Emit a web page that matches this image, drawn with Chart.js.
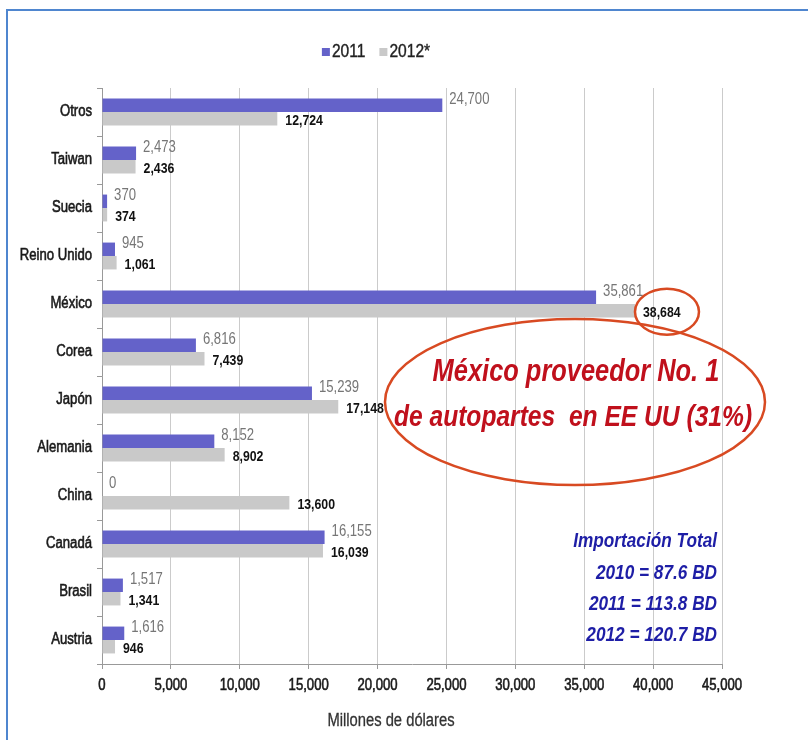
<!DOCTYPE html>
<html>
<head>
<meta charset="utf-8">
<script src="https://cdn.jsdelivr.net/npm/chart.js@4.4.1/dist/chart.umd.min.js"></script>
<style>
  html, body { margin: 0; padding: 0; background: #ffffff; }
  #wrap { position: relative; width: 808px; height: 740px; }
</style>
</head>
<body>
<div id="wrap"><canvas id="chart" width="808" height="740"></canvas></div>
<script>
// Importaciones de autopartes de EE UU por país de origen (millones de dólares)
const categories = ['Otros', 'Taiwan', 'Suecia', 'Reino Unido', 'México', 'Corea', 'Japón', 'Alemania', 'China', 'Canadá', 'Brasil', 'Austria'];
const seriesNames = ['2011', '2012*'];
const values2011 = [24700, 2473, 370, 945, 35861, 6816, 15239, 8152, 0, 16155, 1517, 1616];
const values2012 = [12724, 2436, 374, 1061, 38684, 7439, 17148, 8902, 13600, 16039, 1341, 946];
const xTicks = [0, 5000, 10000, 15000, 20000, 25000, 30000, 35000, 40000, 45000];
const axisTitle = 'Millones de dólares';
const calloutLines = ['México proveedor No. 1', 'de autopartes  en EE UU (31%)'];
const totalLines = ['Importación Total', '2010 = 87.6 BD', '2011 = 113.8 BD', '2012 = 120.7 BD'];

// Liberation Sans squeezed horizontally gives a narrow sans look
const FONT = '"Liberation Sans", Arial, sans-serif';
const NARROW = 0.82;
const COLOR_2011 = '#6462c9';
const COLOR_2012 = '#c9c9c9';
const CLEAR = 'rgba(0,0,0,0)';

function fmt(v) {
  return String(v).replace(/\B(?=(\d{3})+(?!\d))/g, ',');
}

function narrowText(ctx, text, x, y, font, color, align, weight) {
  ctx.save();
  ctx.font = font;
  ctx.fillStyle = color;
  ctx.textAlign = align || 'left';
  ctx.textBaseline = 'middle';
  ctx.translate(x, y);
  ctx.scale(NARROW, 1);
  ctx.fillText(text, 0, 0);
  if (weight) {
    ctx.strokeStyle = color;
    ctx.lineWidth = weight;
    ctx.strokeText(text, 0, 0);
  }
  ctx.restore();
}

function narrowWidth(ctx, text, font) {
  ctx.save();
  ctx.font = font;
  const w = ctx.measureText(text).width * NARROW;
  ctx.restore();
  return w;
}

// Page frame
const framePlugin = {
  id: 'frame',
  afterDraw(chart) {
    const ctx = chart.ctx;
    ctx.save();
    ctx.strokeStyle = '#4f86cf';
    ctx.lineWidth = 2;
    ctx.beginPath();
    ctx.moveTo(7, 740);
    ctx.lineTo(7, 10);
    ctx.lineTo(808, 10);
    ctx.stroke();
    ctx.restore();
  }
};

// Axis labels and title in the narrow face, placed from the chart scales
const axisText = {
  id: 'axisText',
  afterDraw(chart) {
    const ctx = chart.ctx;
    const xs = chart.scales.x, ys = chart.scales.y;
    const tickFont = '16px ' + FONT;
    xs.ticks.forEach((t, i) => {
      narrowText(ctx, fmt(t.value), xs.getPixelForTick(i), xs.top + 22, tickFont, '#1a1a1a', 'center', 0.6);
    });
    ys.ticks.forEach((t, i) => {
      narrowText(ctx, chart.data.labels[i], ys.right - 10, ys.getPixelForTick(i), tickFont, '#1a1a1a', 'right', 0.6);
    });
    narrowText(ctx, axisTitle, 391, 721, '18px ' + FONT, '#333333', 'center', 0.3);
  }
};

// Legend row above the plot
const legendPlugin = {
  id: 'topLegend',
  afterDraw(chart) {
    const ctx = chart.ctx;
    const font = '19px ' + FONT;
    const box = 8, gap = 2, spacing = 14;
    const items = chart.data.datasets.map(d => ({ text: d.label, color: d.backgroundColor, w: narrowWidth(ctx, d.label, font) }));
    const total = items.reduce((s, it) => s + box + gap + it.w, 0) + spacing * (items.length - 1);
    let x = 376 - total / 2;
    const y = 52;
    items.forEach(it => {
      ctx.fillStyle = it.color;
      ctx.fillRect(x, y - box / 2, box, box);
      x += box + gap;
      narrowText(ctx, it.text, x, y, font, '#222222', 'left', 0.4);
      x += it.w + spacing;
    });
  }
};

// Value labels at the end of each bar
const valueLabels = {
  id: 'valueLabels',
  afterDatasetsDraw(chart) {
    const ctx = chart.ctx;
    chart.data.datasets.forEach((ds, di) => {
      const meta = chart.getDatasetMeta(di);
      meta.data.forEach((bar, i) => {
        const v = ds.data[i];
        if (di === 0) {
          narrowText(ctx, fmt(v), bar.x + 7, bar.y - 6, '16px ' + FONT, '#767676', 'left');
        } else {
          narrowText(ctx, fmt(v), bar.x + 8, bar.y + 2, 'bold 15px ' + FONT, '#111111', 'left');
        }
      });
    });
  }
};

// Callout ellipses and notes
const notesPlugin = {
  id: 'notes',
  afterDraw(chart) {
    const ctx = chart.ctx;
    const meta = chart.getDatasetMeta(1);
    const mx = meta.data[4];
    ctx.save();
    ctx.strokeStyle = '#d84a22';
    ctx.lineWidth = 2.5;
    // small ring round the México 2012 value
    ctx.beginPath();
    ctx.ellipse(mx.x + 32, mx.y + 1, 32, 23, 0, 0, Math.PI * 2);
    ctx.stroke();
    // large ring round the callout
    ctx.beginPath();
    ctx.ellipse(575, 402, 190, 83, 0, 0, Math.PI * 2);
    ctx.stroke();
    ctx.restore();

    narrowText(ctx, calloutLines[0], 576, 372, 'italic bold 31px ' + FONT, '#c0101c', 'center');
    narrowText(ctx, calloutLines[1], 573, 418, 'italic bold 30px ' + FONT, '#c0101c', 'center');

    const blue = 'italic bold 21px ' + FONT;
    const ys = [541, 573, 604, 635];
    totalLines.forEach((t, i) => narrowText(ctx, t, 717, ys[i], blue, '#1e1ea6', 'right'));
  }
};

new Chart(document.getElementById('chart'), {
  type: 'bar',
  data: {
    labels: categories,
    datasets: [
      { label: seriesNames[0], data: values2011, backgroundColor: COLOR_2011, borderWidth: 0 },
      { label: seriesNames[1], data: values2012, backgroundColor: COLOR_2012, borderWidth: 0 }
    ]
  },
  options: {
    indexAxis: 'y',
    responsive: false,
    animation: false,
    events: [],
    layout: { padding: { top: 88, right: 86, bottom: 0, left: 0 } },
    datasets: { bar: { categoryPercentage: 0.56, barPercentage: 1 } },
    plugins: {
      legend: { display: false },
      tooltip: { enabled: false }
    },
    scales: {
      x: {
        min: 0,
        max: 45000,
        afterBuildTicks(scale) { scale.ticks = xTicks.map(v => ({ value: v })); },
        afterFit(scale) { scale.height = 76; },
        grid: { color: '#cbcbcb', lineWidth: 1, tickLength: 5, drawTicks: true, tickColor: '#999999' },
        border: { color: '#999999', width: 1 },
        ticks: { padding: 7, color: CLEAR, font: { family: FONT, size: 13 }, maxRotation: 0, autoSkip: false }
      },
      y: {
        afterFit(scale) { scale.width = 102; },
        grid: { drawOnChartArea: false, drawTicks: true, tickLength: 5, offset: true, tickColor: '#999999' },
        border: { color: '#999999', width: 1 },
        ticks: { padding: 5, color: CLEAR, font: { family: FONT, size: 13 } }
      }
    }
  },
  plugins: [valueLabels, axisText, legendPlugin, notesPlugin, framePlugin]
});
</script>
</body>
</html>
